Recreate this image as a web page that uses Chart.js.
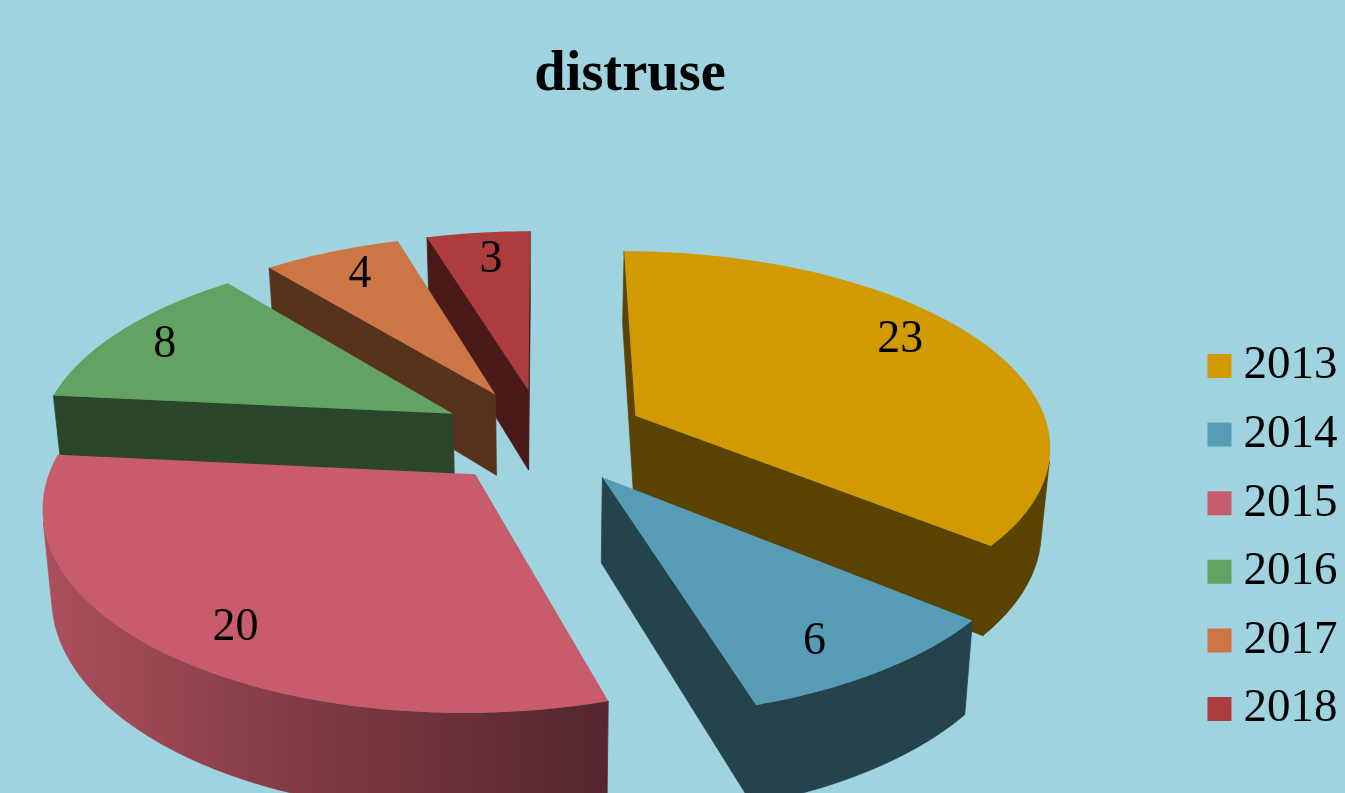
<!DOCTYPE html>
<html lang="en">
  <head>
    <meta charset="UTF-8" />
    <title>distruse</title>
    <style>
      * {
        margin: 0;
        padding: 0;
      }
      body {
        background: #9fd3e0;
        overflow: hidden;
      }
      .chartBox {
        width: 1345px;
        height: 793px;
      }
    </style>
  </head>
  <body>
    <div class="chartBox">
      <canvas id="myChart"></canvas>
    </div>

    <script src="https://cdn.jsdelivr.net/npm/chart.js"></script>

    <script>
      const years = ["2013", "2014", "2015", "2016", "2017", "2018"];
      const distruse = [23, 6, 20, 8, 4, 3];
      const sliceColors = ["#d19a00", "#569cb4", "#c85c6c", "#62a263", "#cb7644", "#ad3c3e"];
      // where each value label sits: degrees off the slice middle, fraction of the radius
      const labelTurns = [-7, 2.5, -3, 0, 1, 1];
      const labelRadii = [0.83, 0.83, 0.83, 0.86, 0.84, 0.83];

      // the fake 3d camera: ground plane unit circle -> screen
      const view = { cx: 543, cy: 436, rx: 415, ry: 193, persp: 0.141, depth: 83, taper: 0.018, explode: 0.25 };
      const CUT_SHADE = 0.43;

      function project(x, y, bottom) {
        const w = 1 / (1 + view.persp * y);
        let sx = view.cx + x * view.rx * w;
        let sy = view.cy - y * view.ry * w;
        if (bottom) {
          sx = view.cx + (sx - view.cx) * (1 - view.taper);
          sy += view.depth * w;
        }
        return [sx, sy];
      }

      function shade(hex, f) {
        const n = parseInt(hex.slice(1), 16);
        const r = Math.round(((n >> 16) & 255) * f);
        const g = Math.round(((n >> 8) & 255) * f);
        const b = Math.round((n & 255) * f);
        return `rgb(${r},${g},${b})`;
      }

      // outer wall gets lighter going round the left side
      function wallShade(clockDeg) {
        if (clockDeg <= 165) return CUT_SHADE;
        if (clockDeg <= 225) return CUT_SHADE + ((clockDeg - 165) / 60) * 0.37;
        return Math.min(0.88, 0.8 + ((clockDeg - 225) / 35) * 0.08);
      }

      function fillPoly(ctx, pts, color, seam) {
        ctx.beginPath();
        pts.forEach((p, i) => (i ? ctx.lineTo(p[0], p[1]) : ctx.moveTo(p[0], p[1])));
        ctx.closePath();
        ctx.fillStyle = color;
        ctx.fill();
        if (seam) {
          // closes the hairline between neighbouring wall faces
          ctx.strokeStyle = color;
          ctx.lineWidth = 0.8;
          ctx.stroke();
        }
      }

      function area(pts) {
        let s = 0;
        pts.forEach((p, i) => {
          const q = pts[(i + 1) % pts.length];
          s += p[0] * q[1] - q[0] * p[1];
        });
        return s;
      }

      function quadOf(a, b) {
        return [
          project(a[0], a[1], false),
          project(b[0], b[1], false),
          project(b[0], b[1], true),
          project(a[0], a[1], true),
        ];
      }

      function drawOuterWall(ctx, arcPts, color) {
        // keep only the part of the rim that faces the viewer
        const seen = [];
        for (let k = 0; k < arcPts.length - 1; k++) {
          if (area(quadOf(arcPts[k], arcPts[k + 1])) < 0) {
            if (!seen.length) seen.push(arcPts[k]);
            seen.push(arcPts[k + 1]);
          }
        }
        if (seen.length < 2) return;
        const top = seen.map((g) => project(g[0], g[1], false));
        const bot = seen.map((g) => project(g[0], g[1], true)).reverse();
        const x0 = top[0][0];
        const x1 = top[top.length - 1][0];
        const grad = ctx.createLinearGradient(x0, 0, x1, 0);
        seen.forEach((g, k) => {
          const deg = (g[2] + Math.PI / 2) * (180 / Math.PI);
          const stop = Math.min(1, Math.max(0, (top[k][0] - x0) / (x1 - x0)));
          grad.addColorStop(stop, shade(color, wallShade(deg)));
        });
        fillPoly(ctx, top.concat(bot), grad, true);
      }

      const pie3d = {
        id: "pie3d",
        afterLayout(chart) {
          // title sits off centre and the legend low on the right in the original
          chart.titleBlock.right = 1260;
          chart.legend.top = 282;
          chart.legend.bottom = 793;
          chart.legend.left += 2.5;
        },
        beforeDatasetDraw(chart) {
          const { ctx } = chart;
          const arcs = chart.getDatasetMeta(0).data;
          const slices = arcs.map((arc, i) => {
            const mid = (arc.startAngle + arc.endAngle) / 2;
            return {
              i,
              arc,
              mid,
              ox: Math.cos(mid) * view.explode,
              oy: -Math.sin(mid) * view.explode,
            };
          });

          // far slices first
          slices.sort((a, b) => b.oy - a.oy);

          ctx.save();
          slices.forEach((s) => {
            const color = sliceColors[s.i];
            const apex = [s.ox, s.oy];
            const arcPts = [];
            const steps = 60;
            for (let k = 0; k <= steps; k++) {
              const a = s.arc.startAngle + ((s.arc.endAngle - s.arc.startAngle) * k) / steps;
              arcPts.push([s.ox + Math.cos(a), s.oy - Math.sin(a), a]);
            }
            const first = arcPts[0];
            const last = arcPts[steps];
            [quadOf(apex, first), quadOf(last, apex)].forEach((quad) => {
              if (area(quad) < 0) fillPoly(ctx, quad, shade(color, CUT_SHADE), true);
            });
            drawOuterWall(ctx, arcPts, color);
            fillPoly(ctx, [apex].concat(arcPts).map((g) => project(g[0], g[1], false)), color, false);
          });

          // value labels sit on top of everything
          ctx.font = "46px 'Liberation Serif'";
          ctx.fillStyle = "#000";
          ctx.textAlign = "center";
          ctx.textBaseline = "middle";
          slices.forEach((s) => {
            const t = labelRadii[s.i];
            const a = s.mid + (labelTurns[s.i] * Math.PI) / 180;
            const p = project(s.ox + Math.cos(a) * t, s.oy - Math.sin(a) * t, false);
            ctx.fillText(chart.data.datasets[0].data[s.i], p[0], p[1] + 3);
          });
          ctx.restore();
          return false;
        },
      };

      const data = {
        labels: years,
        datasets: [
          {
            data: distruse,
            backgroundColor: sliceColors,
            borderWidth: 0,
          },
        ],
      };

      const config = {
        type: "pie",
        data: data,
        options: {
          responsive: true,
          maintainAspectRatio: false,
          animation: false,
          plugins: {
            title: {
              display: true,
              text: "distruse",
              color: "#000",
              font: { family: "'Liberation Serif'", size: 56.5, weight: "bold" },
              padding: { top: 42, bottom: 20 },
            },
            legend: {
              position: "right",
              labels: {
                color: "#000",
                font: { family: "'Liberation Serif'", size: 47 },
                usePointStyle: true,
                pointStyle: "rect",
                boxWidth: 1,
                boxHeight: 24,
                padding: 21.6,
              },
            },
            tooltip: { enabled: false },
          },
        },
        plugins: [pie3d],
      };

      const myChart = new Chart(document.getElementById("myChart"), config);
    </script>
  </body>
</html>
